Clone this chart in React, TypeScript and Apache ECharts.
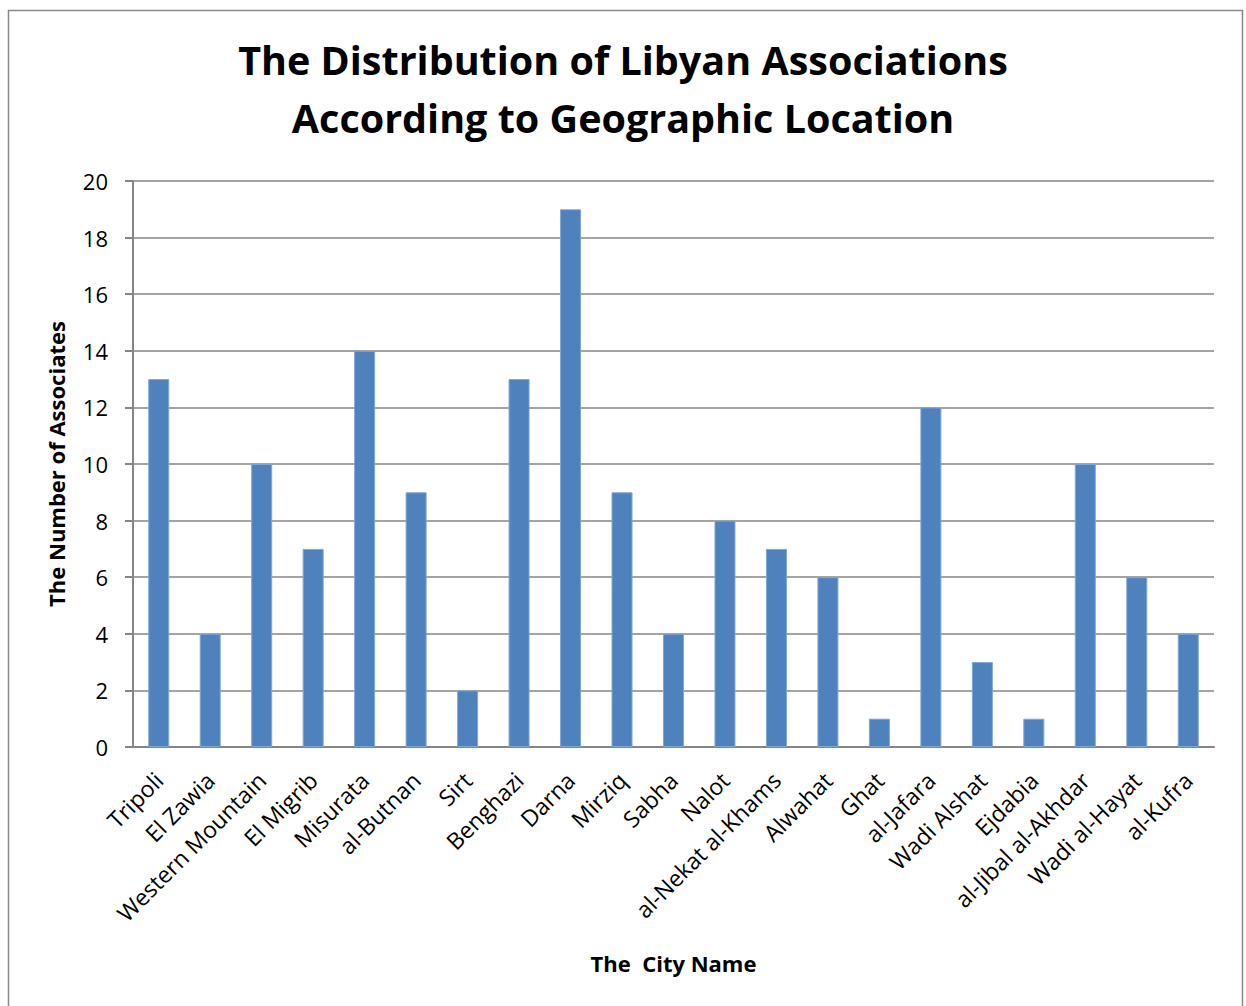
import React, { useEffect, useRef } from "react";
import * as echarts from "echarts";

const cities = [
  "Tripoli", "El Zawia", "Western Mountain", "El Migrib", "Misurata", "al-Butnan", "Sirt",
  "Benghazi", "Darna", "Mirziq", "Sabha", "Nalot", "al-Nekat al-Khams", "Alwahat", "Ghat",
  "al-Jafara", "Wadi Alshat", "Ejdabia", "al-Jibal al-Akhdar", "Wadi al-Hayat", "al-Kufra",
];
const associations = [13, 4, 10, 7, 14, 9, 2, 13, 19, 9, 4, 8, 7, 6, 1, 12, 3, 1, 10, 6, 4];

const titleLines = ["The Distribution of Libyan Associations", "According to Geographic Location"];
const yAxisName = "The Number of Associates";
const xAxisName = "The  City Name";

const FONT = "'Open Sans', sans-serif";

export default function App() {
  const ref = useRef<HTMLDivElement>(null);
  useEffect(() => {
    document.body.style.margin = "0";
    const chart = echarts.init(ref.current!, null, { renderer: "svg" });
    chart.setOption({
      animation: false,
      backgroundColor: "#ffffff",
      textStyle: { fontFamily: FONT },
      title: {
        text: titleLines.join("\n"),
        left: "center",
        top: 26,
        textStyle: {
          fontFamily: FONT,
          fontSize: 39.5,
          fontWeight: "bold",
          color: "#000",
          lineHeight: 58,
        },
      },
      graphic: [
        {
          type: "rect",
          shape: { x: 8.5, y: 10.5, width: 1234, height: 1010 },
          style: { fill: "none", stroke: "#888888", lineWidth: 1.5 },
          silent: true,
        },
      ],
      grid: { left: 133, right: 32, top: 181, bottom: 259, containLabel: false },
      xAxis: {
        type: "category",
        data: cities,
        name: xAxisName,
        nameLocation: "middle",
        nameGap: 205,
        nameTextStyle: { fontFamily: FONT, fontSize: 22, fontWeight: "bold", color: "#000" },
        axisLine: { show: true, lineStyle: { color: "#868686", width: 2 } },
        axisTick: { show: false },
        axisLabel: {
          interval: 0,
          rotate: 45,
          fontFamily: FONT,
          fontSize: 23,
          color: "#000",
          margin: 29,
        },
      },
      yAxis: {
        type: "value",
        min: 0,
        max: 20,
        interval: 2,
        name: yAxisName,
        nameLocation: "middle",
        nameGap: 66,
        nameTextStyle: { fontFamily: FONT, fontSize: 22, fontWeight: "bold", color: "#000" },
        axisLine: { show: true, lineStyle: { color: "#868686", width: 2 } },
        axisTick: { show: true, inside: false, length: 8, lineStyle: { color: "#868686", width: 2 } },
        axisLabel: { fontFamily: FONT, fontSize: 22, color: "#000", margin: 25 },
        splitLine: { show: true, lineStyle: { color: "#868686", width: 1.5 } },
      },
      series: [
        {
          type: "bar",
          data: associations,
          barWidth: 21,
          itemStyle: { color: "#4F81BD", borderColor: "#7fa6d6", borderWidth: 1 },
        },
      ],
    });
    return () => chart.dispose();
  }, []);
  return <div ref={ref} style={{ width: 1246, height: 1006 }} />;
}
